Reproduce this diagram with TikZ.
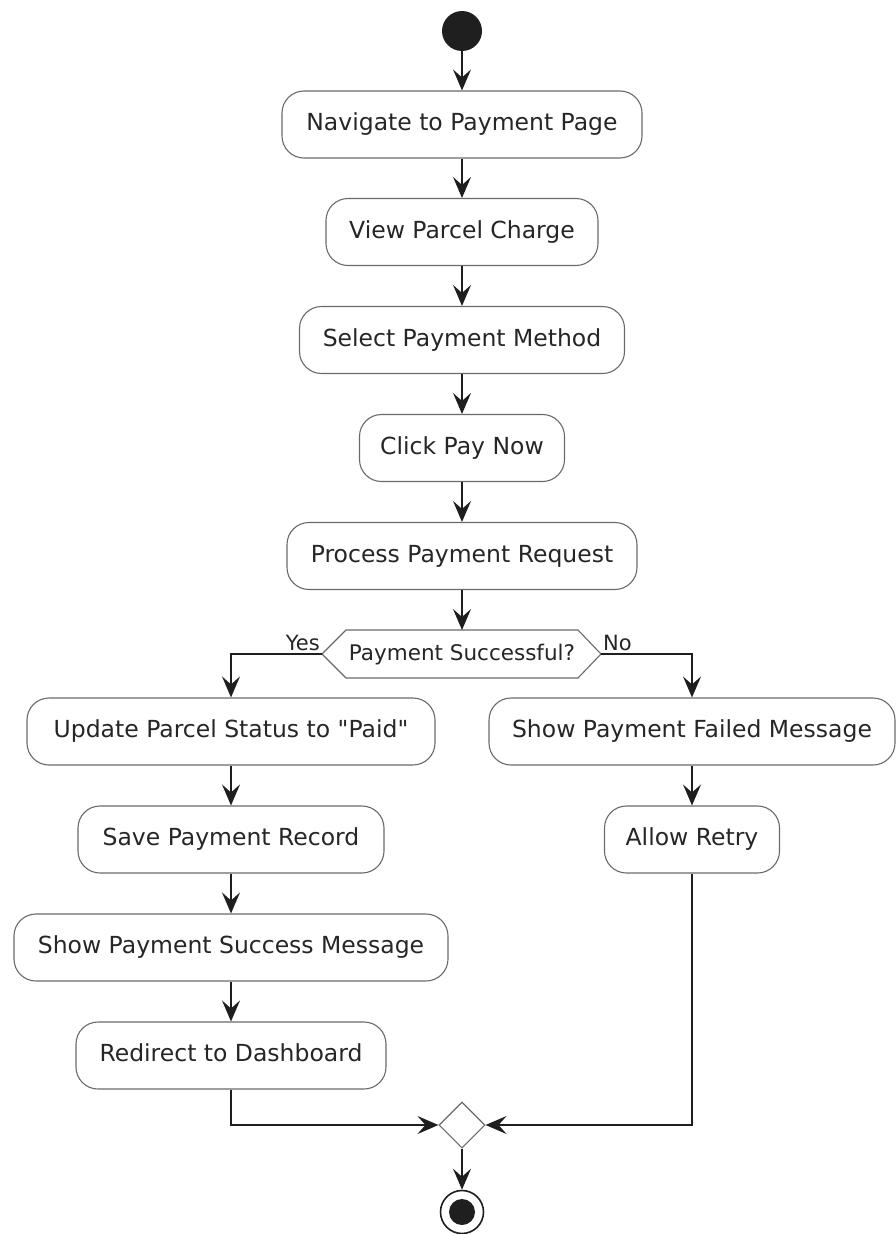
\documentclass[tikz,border=0pt]{standalone}
\usepackage{fontspec}
\setmainfont{DejaVu Sans}
\usetikzlibrary{arrows.meta,shapes.geometric,shapes.misc}
\definecolor{boxline}{HTML}{6A6A6A}
\definecolor{flowline}{HTML}{1E1E1E}
\tikzset{
  act/.style={draw=boxline, line width=1.1pt, fill=white, rounded corners=22pt,
    minimum height=67pt, inner xsep=0pt, text height=17pt, text depth=5pt,
    font=\fontsize{23.5}{28}\selectfont, text=black!85},
  flow/.style={draw=flowline, line width=1.6pt, -{Stealth[length=21pt,width=18pt,inset=8pt]}},
  lbl/.style={font=\fontsize{21}{25}\selectfont, text=black!85, inner sep=0pt}
}
\begin{document}
\begin{tikzpicture}[x=1pt,y=-1pt]
\useasboundingbox (0,0) rectangle (896,1234);
% start
\node[circle, fill=black!88, minimum size=40pt, inner sep=0pt] (start) at (462,31) {};
% actions
\node[act, minimum width=360pt] (nav) at (462,124.5) {Navigate to Payment Page};
\node[act, minimum width=272pt] (view) at (462,232) {View Parcel Charge};
\node[act, minimum width=325pt] (sel) at (462,340) {Select Payment Method};
\node[act, minimum width=205pt] (click) at (462,448) {Click Pay Now};
\node[act, minimum width=350pt] (proc) at (462,556) {Process Payment Request};
% decision
\coordinate (dl) at (322,654);
\coordinate (dr) at (601,654);
\path[draw=boxline, line width=1.1pt, fill=white]
  (322,654) -- (346,630) -- (578,630) -- (601,654) -- (578,678) -- (346,678) -- cycle;
\node[font=\fontsize{21.5}{25}\selectfont, text=black!85, inner sep=0pt] (dec) at (462,655) {Payment Successful?};
\coordinate (dtop) at (462,630);
% left branch
\node[act, minimum width=408pt] (upd) at (231,731.5) {Update Parcel Status to \textquotedbl Paid\textquotedbl};
\node[act, minimum width=306pt] (save) at (231,839.5) {Save Payment Record};
\node[act, minimum width=434pt] (succ) at (231,947.5) {Show Payment Success Message};
\node[act, minimum width=310pt] (redir) at (231,1055.5) {Redirect to Dashboard};
% right branch
\node[act, minimum width=406pt] (fail) at (692,731.5) {Show Payment Failed Message};
\node[act, minimum width=175pt] (retry) at (692,839.5) {Allow Retry};
% merge
\node[diamond, draw=boxline, line width=1.1pt, fill=white, minimum width=46pt, minimum height=46pt, inner sep=0pt, aspect=1] (merge) at (462,1125) {};
% end
\node[circle, draw=flowline, line width=1.6pt, minimum size=43pt, inner sep=0pt] (endo) at (462,1212) {};
\node[circle, fill=black!88, minimum size=26pt, inner sep=0pt] (endi) at (462,1212) {};
% labels
\node[lbl, anchor=south east] (yes) at (320,651) {Yes};
\node[lbl, anchor=south west] (no) at (603,651) {No};
% connectors
\draw[flow] (start) -- (nav);
\draw[flow] (nav) -- (view);
\draw[flow] (view) -- (sel);
\draw[flow] (sel) -- (click);
\draw[flow] (click) -- (proc);
\draw[flow] (proc) -- (dtop);
\draw[flow] (dl) -| (upd.north);
\draw[flow] (dr) -| (fail.north);
\draw[flow] (upd) -- (save);
\draw[flow] (save) -- (succ);
\draw[flow] (succ) -- (redir);
\draw[flow] (fail) -- (retry);
\draw[flow] (redir.south) |- (merge.west);
\draw[flow] (retry.south) |- (merge.east);
\draw[flow] (merge) -- (endo);
\end{tikzpicture}
\end{document}
